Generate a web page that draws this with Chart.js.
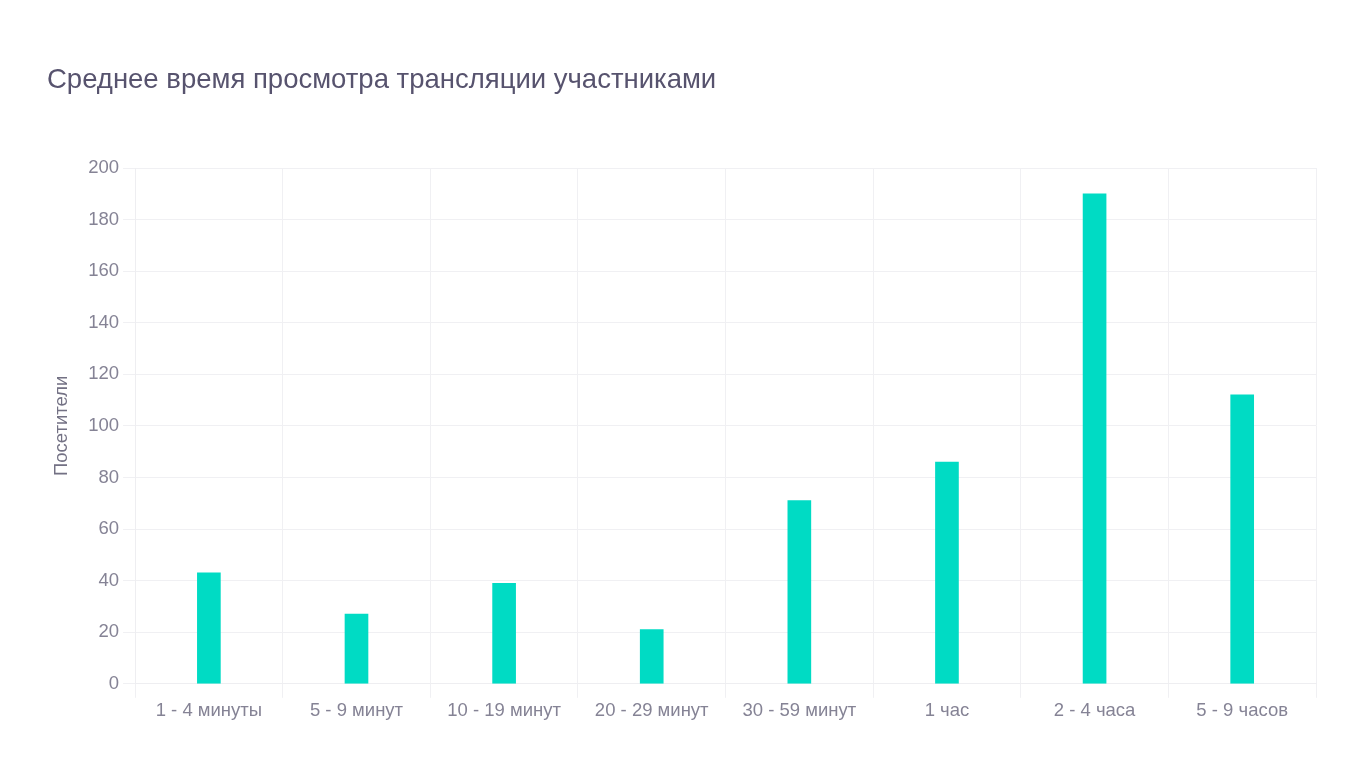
<!DOCTYPE html>
<html>
<head>
<meta charset="utf-8">
<script src="https://cdn.jsdelivr.net/npm/chart.js@4/dist/chart.umd.min.js"></script>
<style>
  html, body { margin: 0; padding: 0; background: #fff; }
  #wrap { width: 1360px; height: 782px; }
</style>
</head>
<body>
<div id="wrap"><canvas id="chart"></canvas></div>
<script>
var categories = ["1 - 4 минуты", "5 - 9 минут", "10 - 19 минут", "20 - 29 минут", "30 - 59 минут", "1 час", "2 - 4 часа", "5 - 9 часов"];
var visitors = [43, 27, 39, 21, 71, 86, 190, 112];
var titleText = "Среднее время просмотра трансляции участниками";
var axisTitle = "Посетители";
var font = "'Liberation Sans', Arial, sans-serif";

var ctx = document.getElementById("chart").getContext("2d");
var chart = new Chart(ctx, {
  type: "bar",
  data: {
    labels: categories,
    datasets: [{
      label: axisTitle,
      data: visitors,
      backgroundColor: "#00dbc4",
      barThickness: 23
    }]
  },
  options: {
    responsive: true,
    maintainAspectRatio: false,
    animation: false,
    layout: { padding: { top: 64, left: 47, right: 44, bottom: 58 } },
    plugins: {
      legend: { display: false },
      tooltip: { enabled: false },
      title: {
        display: true,
        text: titleText,
        align: "start",
        color: "#57536e",
        font: { family: font, size: 27.5, weight: "normal" },
        padding: { top: 0, bottom: 71 }
      }
    },
    scales: {
      x: {
        grid: { color: "#f0f0f3", tickLength: 14, offset: true },
        border: { color: "#eeeef1" },
        ticks: { color: "#858395", font: { family: font, size: 18.5 }, padding: 2 },
      },
      y: {
        min: 0,
        max: 200,
        grid: { color: "#f0f0f3", tickLength: 12 },
        border: { color: "#eeeef1" },
        ticks: { stepSize: 20, color: "#858395", font: { family: font, size: 18.5 }, padding: 4 },
        title: {
          display: true,
          text: axisTitle,
          color: "#737184",
          font: { family: font, size: 18.5 },
          padding: { bottom: 11 }
        }
      }
    }
  }
});
</script>
</body>
</html>
